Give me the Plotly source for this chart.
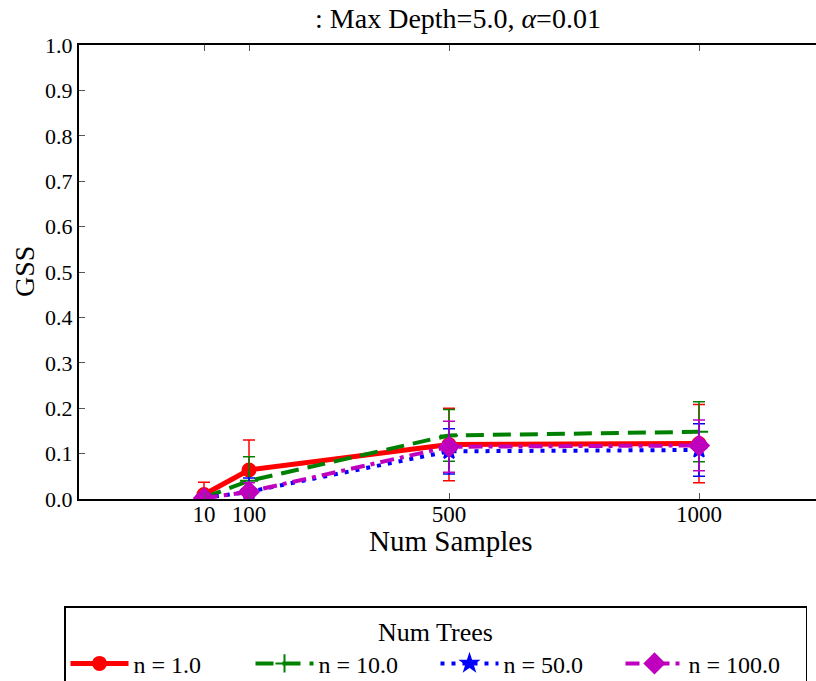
import plotly.graph_objects as go

samples = [10, 100, 500, 1000]
labels = ["n = 1.0", "n = 10.0", "n = 50.0", "n = 100.0"]
gss_n1 = [0.010, 0.064, 0.120, 0.122]
err_n1 = [0.027, 0.066, 0.080, 0.086]
gss_n10 = [0.003, 0.040, 0.140, 0.148]
err_n10 = [0.010, 0.053, 0.057, 0.066]
gss_n50 = [0.002, 0.016, 0.105, 0.108]
err_n50 = [0.006, 0.030, 0.050, 0.058]
gss_n100 = [0.002, 0.016, 0.115, 0.118]
err_n100 = [0.006, 0.020, 0.056, 0.056]

series = [
    (labels[0], gss_n1, err_n1, "#ff0000", "solid", "circle", 13, 5),
    (labels[1], gss_n10, err_n10, "#008000", "18px,9px", "cross-thin", 13, 4),
    (labels[2], gss_n50, err_n50, "#0000ff", "4px,7px", "star", 12, 4),
    (labels[3], gss_n100, err_n100, "#bf00bf", "14px,6px,4px,6px", "diamond", 15, 4),
]

fig = go.Figure()
for name, y, e, col, dash, sym, ms, lw in series:
    fig.add_trace(go.Scatter(
        x=samples, y=y, name=name, mode="lines+markers",
        line=dict(color=col, width=lw, dash=dash),
        marker=dict(symbol=sym, size=ms, color=col,
                    line=dict(color=col, width=2)),
        error_y=dict(type="data", array=e, visible=True, color=col,
                     thickness=1.5, width=6),
    ))

font = "Liberation Serif"
L, T, W, H = 79, 45, 737, 454
fig.update_layout(
    width=816, height=681,
    margin=dict(l=L, r=0, t=T, b=681 - T - H, autoexpand=False),
    paper_bgcolor="white", plot_bgcolor="white",
    font=dict(family=font, size=22, color="black"),
    title=dict(text=": Max Depth=5.0, <i>α</i>=0.01", x=458 / 816, xanchor="center",
               y=1 - 18 / 681, yanchor="middle", font=dict(size=28, family=font)),
    showlegend=True,
    legend=dict(
        orientation="h",
        x=(64 - L) / W, xanchor="left", y=-(606 - (T + H)) / H, yanchor="top",
        bordercolor="black", borderwidth=1.5, bgcolor="white",
        title=dict(text="Num Trees", side="top center", font=dict(size=26, family=font)),
        font=dict(size=24, family=font), entrywidth=112, itemwidth=58,
        tracegroupgap=0,
    ),
    annotations=[
        dict(text="Num Samples", xref="paper", yref="paper",
             x=(451 - L) / W, y=-(541 - (T + H)) / H,
             xanchor="center", yanchor="middle",
             showarrow=False, font=dict(size=29, family=font)),
        dict(text="GSS", xref="paper", yref="paper",
             x=(24 - L) / W, y=0.5, textangle=-90,
             xanchor="center", yanchor="middle",
             showarrow=False, font=dict(size=28, family=font)),
    ],
)
fig.update_xaxes(
    range=[-240, 1234], tickvals=samples, ticktext=[str(s) for s in samples],
    showgrid=False, zeroline=False, showline=True, linecolor="black", linewidth=2,
    mirror="ticks", ticks="inside", ticklen=6, tickcolor="#555",
    tickfont=dict(size=23, family=font), ticklabelstandoff=-7,
)
fig.update_yaxes(
    range=[0, 1.0], tickvals=[i / 10 for i in range(11)],
    ticktext=[f"{i / 10:.1f}" for i in range(11)],
    showgrid=False, zeroline=False, showline=True, linecolor="black", linewidth=2,
    ticks="inside", ticklen=6, tickcolor="#555",
    tickfont=dict(size=22, family=font),
)
fig.write_html("out.html")
